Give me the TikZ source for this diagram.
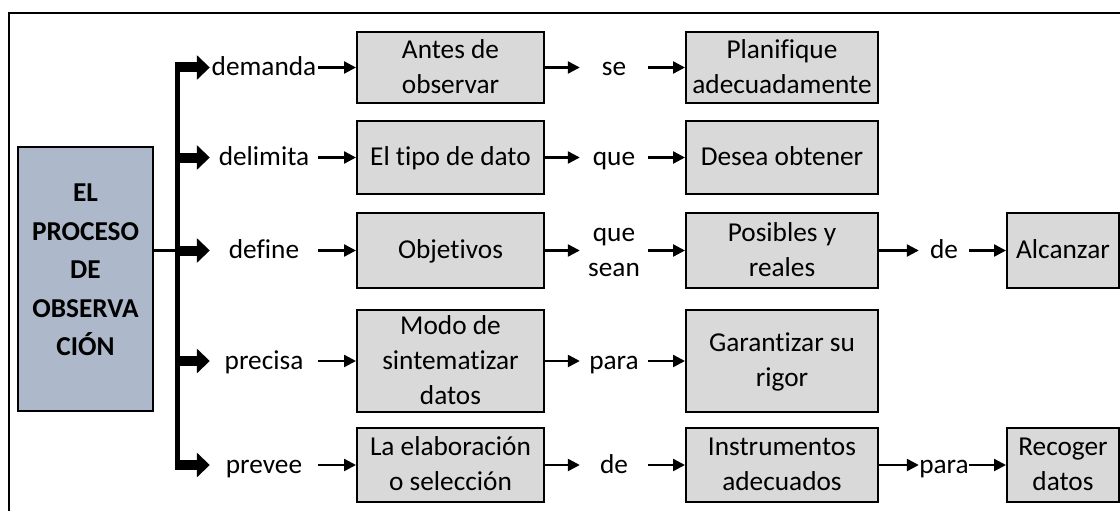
\documentclass[tikz,border=0pt]{standalone}
\usepackage{fontspec}
\setmainfont{Carlito}[Ligatures={NoCommon}]
\usetikzlibrary{arrows.meta}
\definecolor{mainfill}{HTML}{ADB9CA}
\definecolor{boxfill}{HTML}{D9D9D9}
\newcommand{\stt}{\rule[-0.19em]{0pt}{1em}}
\tikzset{
  box/.style={draw=black, line width=2pt, fill=boxfill, align=center, inner sep=0pt,
    font=\fontsize{27.3}{35}\selectfont},
  lbl/.style={inner sep=0pt, align=center, font=\fontsize{27.3}{35}\selectfont},
  thinarrow/.style={line width=2.4pt, -{Triangle[length=12pt,width=12pt]}},
  thickarrow/.style={line width=10pt, -{Triangle[length=13pt,width=24pt]}},
}
\begin{document}
\begin{tikzpicture}[x=1pt,y=-1pt]
\useasboundingbox (0,0) rectangle (1120,511);
% outer frame (partly outside the page)
\draw[line width=2pt] (9,511) -- (9,13) -- (1120,13);

% main box
\node[draw=black, line width=1.5pt, fill=mainfill, minimum width=135pt, minimum height=264pt, inner sep=0pt] (main) at (85.5,279) {};
\node[align=center, inner sep=0pt, font=\fontsize{27.3}{38.5}\selectfont\bfseries] (maintitle) at (85.5,270) {EL\\PROCESO\\DE\\OBSERVA\\CIÓN};

% bar coordinates
\coordinate (t1) at (177,67.5);
\coordinate (t2) at (177,157.5);
\coordinate (t3) at (177,250.5);
\coordinate (t4) at (177,361);
\coordinate (t5) at (177,465);
\draw[line width=5pt] ([yshift=-5pt]t1) -- ([yshift=5pt]t5);
\draw[line width=3pt] (main.east |- t3) -- (t3);

% first-level labels
\node[lbl, minimum width=108pt] (l1) at (264,67.5) {\stt demanda};
\node[lbl, minimum width=108pt] (l2) at (264,157.5) {\stt delimita};
\node[lbl, minimum width=108pt] (l3) at (264,250.5) {\stt define};
\node[lbl, minimum width=108pt] (l4) at (264,361) {\stt precisa};
\node[lbl, minimum width=108pt] (l5) at (264,465) {\stt prevee};

\foreach \i in {1,...,5}{
  \draw[thickarrow] ([xshift=-2.5pt]t\i) -- (l\i.west);
}

% column 1 boxes
\node[box, minimum width=187pt, minimum height=71pt] (b1) at (450.5,67.5) {\stt Antes de\\\stt observar};
\node[box, minimum width=187pt, minimum height=73pt] (b2) at (450.5,157.5) {\stt El tipo de dato};
\node[box, minimum width=187pt, minimum height=75pt] (b3) at (450.5,250.5) {\stt Objetivos};
\node[box, minimum width=187pt, minimum height=102pt] (b4) at (450.5,361) {\stt Modo de\\\stt sintematizar\\\stt datos};
\node[box, minimum width=187pt, minimum height=74pt] (b5) at (450.5,465) {\stt La elaboración\\\stt o selección};

\foreach \i in {1,...,5}{
  \draw[thinarrow] (l\i.east) -- (b\i.west);
}

% second-level labels
\node[lbl, minimum width=68pt] (m1) at (614,67.5) {\stt se};
\node[lbl, minimum width=68pt] (m2) at (614,157.5) {\stt que};
\node[lbl, minimum width=68pt] (m3) at (614,250.5) {\stt que\\\stt sean};
\node[lbl, minimum width=68pt] (m4) at (614,361) {\stt para};
\node[lbl, minimum width=68pt] (m5) at (614,465) {\stt de};

% column 2 boxes
\node[box, minimum width=192pt, minimum height=71pt] (c1) at (782,67.5) {\stt Planifique\\\stt adecuadamente};
\node[box, minimum width=192pt, minimum height=73pt] (c2) at (782,157.5) {\stt Desea obtener};
\node[box, minimum width=192pt, minimum height=75pt] (c3) at (782,250.5) {\stt Posibles y\\\stt reales};
\node[box, minimum width=192pt, minimum height=102pt] (c4) at (782,361) {\stt Garantizar su\\\stt rigor};
\node[box, minimum width=192pt, minimum height=74pt] (c5) at (782,465) {\stt Instrumentos\\\stt adecuados};

\foreach \i in {1,...,5}{
  \draw[thinarrow] (b\i.east) -- (m\i.west);
  \draw[thinarrow] (m\i.east) -- (c\i.west);
}

% third-level labels
\node[lbl, minimum width=50pt] (n3) at (944,250.5) {\stt de};
\node[lbl, minimum width=50pt] (n5) at (944,465) {\stt para};

% column 3 boxes
\node[box, minimum width=112pt, minimum height=75pt] (d3) at (1063,250.5) {\stt Alcanzar};
\node[box, minimum width=112pt, minimum height=74pt] (d5) at (1063,465) {\stt Recoger\\\stt datos};

\draw[thinarrow] (c3.east) -- (n3.west);
\draw[thinarrow] (n3.east) -- (d3.west);
\draw[thinarrow] (c5.east) -- (n5.west);
\draw[thinarrow] (n5.east) -- (d5.west);
\end{tikzpicture}
\end{document}
